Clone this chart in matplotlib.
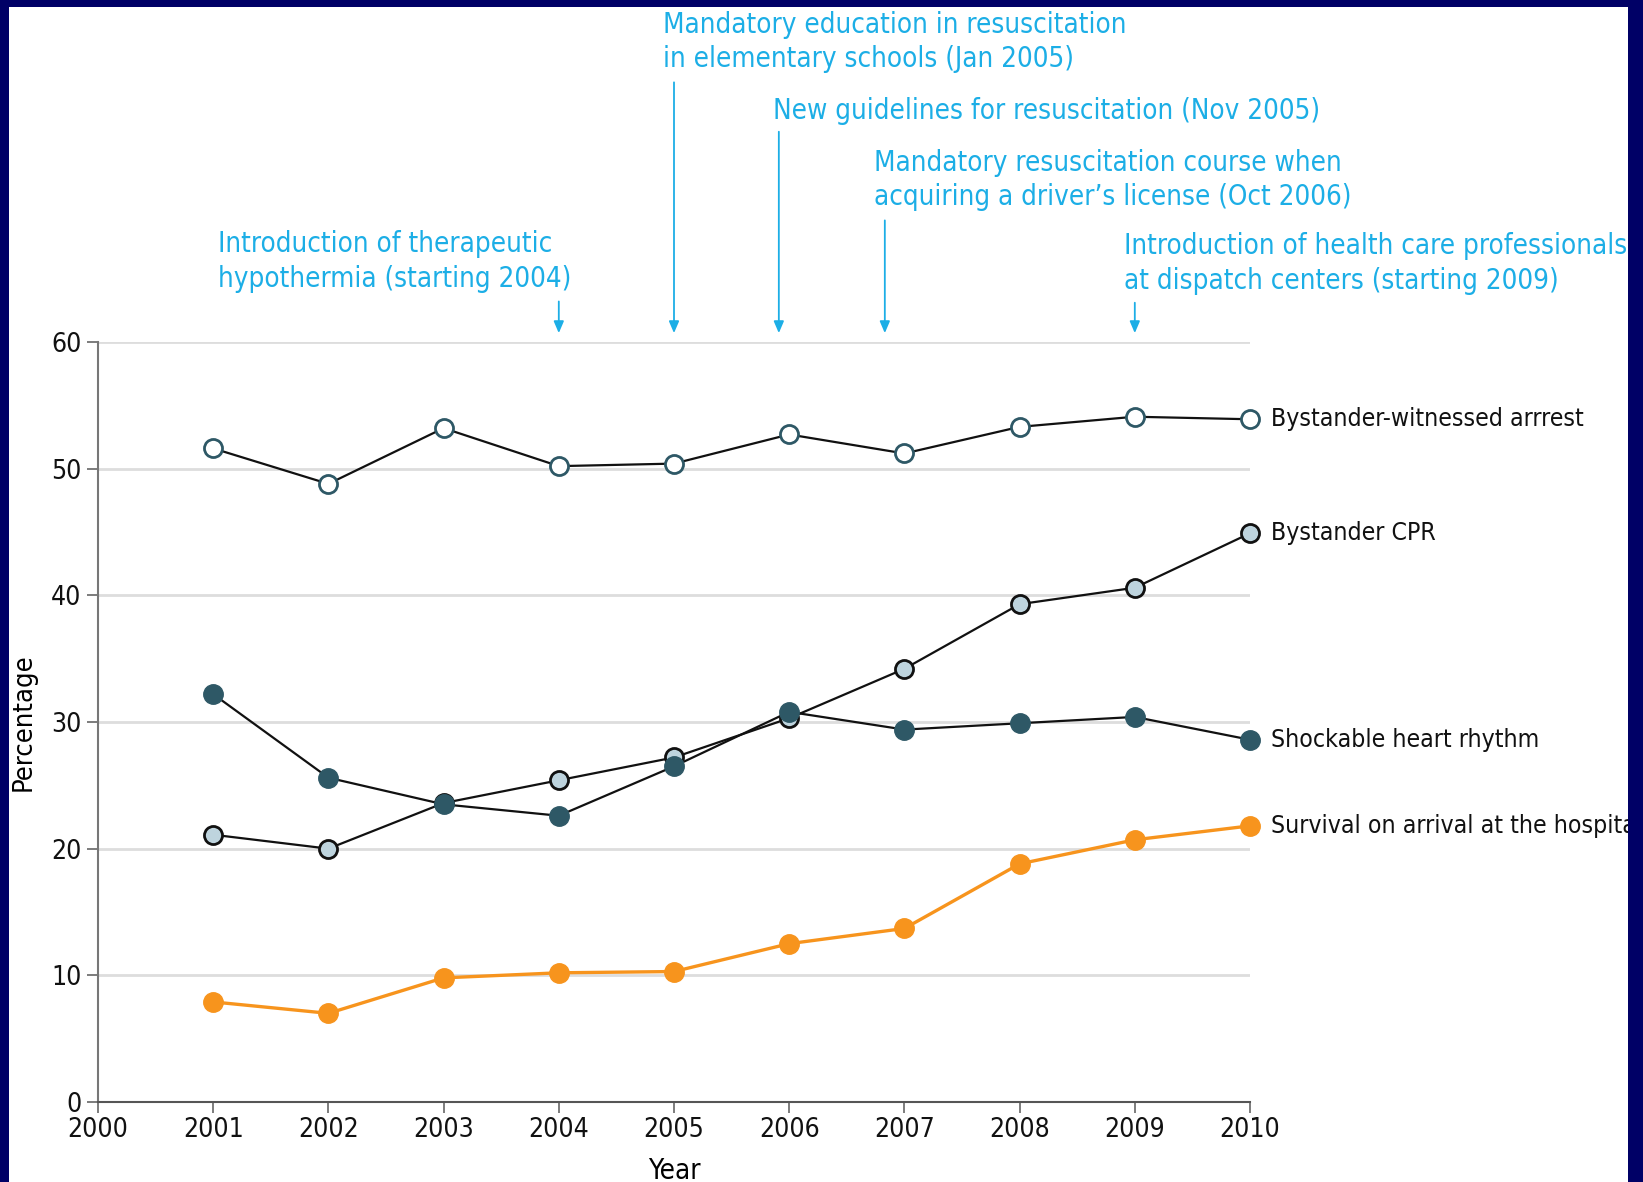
import matplotlib.pyplot as plt
from matplotlib.patches import Rectangle

years = [2001, 2002, 2003, 2004, 2005, 2006, 2007, 2008, 2009, 2010]
witnessed = [51.6, 48.8, 53.2, 50.2, 50.4, 52.7, 51.2, 53.3, 54.1, 53.9]
cpr = [21.1, 20.0, 23.6, 25.4, 27.2, 30.3, 34.2, 39.3, 40.6, 44.9]
shockable = [32.2, 25.6, 23.5, 22.6, 26.5, 30.8, 29.4, 29.9, 30.4, 28.6]
survival = [7.9, 7.0, 9.8, 10.2, 10.3, 12.5, 13.7, 18.8, 20.7, 21.8]

series_labels = ["Bystander-witnessed arrrest", "Bystander CPR",
                 "Shockable heart rhythm", "Survival on arrival at the hospital"]

# interventions: arrow x (year), arrow top, text left x, text center y, text
event_x = [2004, 2005, 2005.91, 2006.83, 2009]
event_top = [63.2, 80.5, 76.6, 69.6, 63.1]
event_text_x = [2001.04, 2004.905, 2005.86, 2006.736, 2008.906]
event_text_y = [66.35, 83.7, 78.24, 72.8, 66.2]
event_text = [
    "Introduction of therapeutic\nhypothermia (starting 2004)",
    "Mandatory education in resuscitation\nin elementary schools (Jan 2005)",
    "New guidelines for resuscitation (Nov 2005)",
    "Mandatory resuscitation course when\nacquiring a driver\u2019s license (Oct 2006)",
    "Introduction of health care professionals\nat dispatch centers (starting 2009)",
]

blue = "#1CAEE6"
teal = "#2E5866"

fig = plt.figure(figsize=(16.43, 11.82), dpi=100)
fig.patch.set_facecolor("white")
ax = fig.add_axes([98 / 1643, 80 / 1182, 1152 / 1643, 760 / 1182])

ax.set_xlim(2000, 2010)
ax.set_ylim(0, 60)
ax.set_xticks(range(2000, 2011))
ax.set_yticks(range(0, 61, 10))
ax.grid(axis="y", color="#DDDDDD", linewidth=2)
ax.set_axisbelow(True)
for s in ["top", "right"]:
    ax.spines[s].set_visible(False)
ax.spines["left"].set_color("#777777")
ax.spines["left"].set_linewidth(1.5)
ax.spines["bottom"].set_color("#555555")
ax.spines["bottom"].set_linewidth(1.5)
ax.tick_params(axis="both", direction="out", length=8, width=1.2,
               colors="#666666", labelcolor="#111111", labelsize=19)
ax.tick_params(axis="y", pad=4)
ax.tick_params(axis="x", pad=3)
for lab in ax.get_xticklabels() + ax.get_yticklabels():
    lab.set_fontstretch("condensed")

ax.set_xlabel("Year", fontsize=20, fontstretch="condensed", labelpad=10)
ax.set_ylabel("Percentage", fontsize=19.5, fontstretch="condensed", labelpad=10)

ms = 13
ax.plot(years, witnessed, color="#111111", lw=1.6, marker="o", ms=ms,
        mfc="white", mec=teal, mew=2.0, clip_on=False, zorder=3)
ax.plot(years, cpr, color="#111111", lw=1.6, marker="o", ms=ms,
        mfc="#BED4DE", mec="#111111", mew=2.0, clip_on=False, zorder=3)
ax.plot(years, shockable, color="#111111", lw=1.6, marker="o", ms=ms + 1,
        mfc=teal, mec=teal, mew=1.0, clip_on=False, zorder=4)
ax.plot(years, survival, color="#F7941D", lw=2.4, marker="o", ms=ms + 1,
        mfc="#F7941D", mec="#F7941D", mew=1.0, clip_on=False, zorder=3)

last = [witnessed[-1], cpr[-1], shockable[-1], survival[-1]]
for lab, v in zip(series_labels, last):
    ax.text(2010.18, v, lab, fontsize=17.8, fontstretch="condensed", color="#111111",
            va="center", ha="left", clip_on=False)

for x, top, tx, ty, txt in zip(event_x, event_top, event_text_x, event_text_y, event_text):
    ax.annotate("", xy=(x, 60.7), xytext=(x, top),
                arrowprops=dict(arrowstyle="-|>,head_length=0.7,head_width=0.3",
                                color=blue, lw=1.3, shrinkA=0, shrinkB=0),
                annotation_clip=False)
    ax.text(tx, ty, txt, fontsize=19.9, fontstretch="condensed", color=blue,
            ha="left", va="center", linespacing=1.3, clip_on=False)

# navy frame (top, left, right), drawn above the axes so text is clipped
navy = "#000066"
fig.patches.append(Rectangle((0, 1 - 7 / 1182), 1, 7 / 1182, transform=fig.transFigure,
                             facecolor=navy, edgecolor="none", zorder=10))
fig.patches.append(Rectangle((0, 0), 9 / 1643, 1, transform=fig.transFigure,
                             facecolor=navy, edgecolor="none", zorder=10))
fig.patches.append(Rectangle((1628 / 1643, 0), 15 / 1643, 1, transform=fig.transFigure,
                             facecolor=navy, edgecolor="none", zorder=10))

fig.savefig("out.png", dpi=100)
